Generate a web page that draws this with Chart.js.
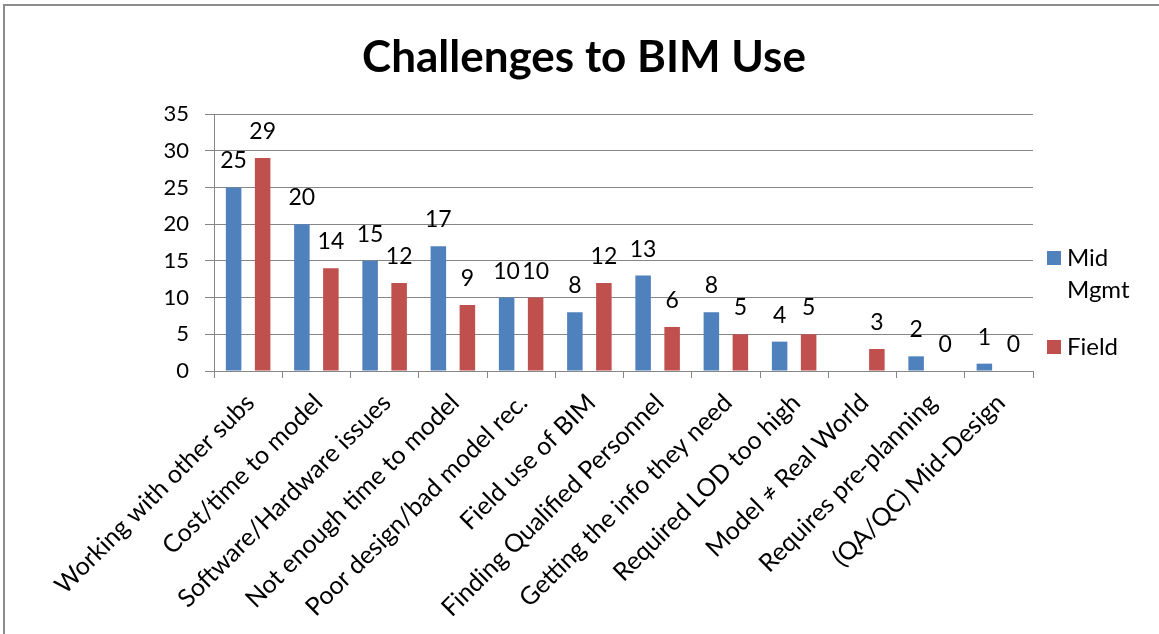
<!DOCTYPE html>
<html>
<head>
<meta charset="utf-8">
<title>Challenges to BIM Use</title>
<script src="https://cdn.jsdelivr.net/npm/chart.js@4.4.1/dist/chart.umd.min.js"></script>
<style>
  html, body { margin: 0; padding: 0; background: #fff; }
  #wrap { position: relative; width: 1159px; height: 634px; overflow: hidden; }
  #frame { position: absolute; left: 3px; top: 4px; right: -10px; bottom: -10px;
           border-left: 2px solid #8c8c8c; border-top: 2px solid #8c8c8c; pointer-events: none; }
  canvas { position: absolute; left: 0; top: 0; }
</style>
</head>
<body>
<div id="wrap">
  <canvas id="chart" width="1159" height="634"></canvas>
  <div id="frame"></div>
</div>
<script>
const chartTitle = 'Challenges to BIM Use';
const categories = [
  'Working with other subs',
  'Cost/time to model',
  'Software/Hardware issues',
  'Not enough time to model',
  'Poor design/bad model rec.',
  'Field use of BIM',
  'Finding Qualified Personnel',
  'Getting the info they need',
  'Required LOD too high',
  'Model \u2260 Real World',
  'Requires pre-planning',
  '(QA/QC) Mid-Design'
];
const midMgmt = [25, 20, 15, 17, 10, 8, 13, 8, 4, null, 2, 1];
const field   = [29, 14, 12, 9, 10, 12, 6, 5, 5, 3, 0, 0];
const seriesNames = [['Mid', 'Mgmt'], ['Field']];
const seriesColors = ['#4F81BD', '#C0504D'];
const yTicks = [0, 5, 10, 15, 20, 25, 30, 35];

const FONT = 'Lato, "Open Sans", sans-serif';
const GRID = '#868686';

// Value labels above each bar, Office style
const valueLabels = {
  id: 'valueLabels',
  afterDatasetsDraw(chart) {
    const ctx = chart.ctx;
    ctx.save();
    ctx.font = '23px ' + FONT;
    ctx.fillStyle = '#000';
    ctx.textAlign = 'center';
    ctx.textBaseline = 'alphabetic';
    chart.data.datasets.forEach((ds, di) => {
      const meta = chart.getDatasetMeta(di);
      meta.data.forEach((bar, i) => {
        const v = ds.data[i];
        if (v === null || v === undefined) return;
        ctx.fillText(String(v), bar.x, bar.y - 19);
      });
    });
    ctx.restore();
  }
};

// Title and right-side legend
const decorations = {
  id: 'decorations',
  afterDraw(chart) {
    const ctx = chart.ctx;
    ctx.save();
    ctx.fillStyle = '#000';
    ctx.font = 'bold 44px ' + FONT;
    ctx.textAlign = 'center';
    ctx.textBaseline = 'alphabetic';
    ctx.fillText(chartTitle, 584, 72);

    ctx.font = '24px ' + FONT;
    ctx.textAlign = 'left';
    const entries = [
      { color: seriesColors[0], box: 251, lines: seriesNames[0], base: [266, 298] },
      { color: seriesColors[1], box: 340, lines: seriesNames[1], base: [355] }
    ];
    entries.forEach(e => {
      ctx.fillStyle = e.color;
      ctx.fillRect(1047, e.box, 14, 14);
      ctx.fillStyle = '#000';
      e.lines.forEach((t, k) => ctx.fillText(t, 1067, e.base[k]));
    });
    ctx.restore();
  }
};

new Chart(document.getElementById('chart'), {
  type: 'bar',
  data: {
    labels: categories,
    datasets: [
      { label: seriesNames[0].join(' '), data: midMgmt, backgroundColor: seriesColors[0],
        categoryPercentage: 0.85, barPercentage: 0.535 },
      { label: seriesNames[1].join(' '), data: field, backgroundColor: seriesColors[1],
        categoryPercentage: 0.85, barPercentage: 0.535 }
    ]
  },
  options: {
    responsive: false,
    animation: false,
    devicePixelRatio: 1,
    layout: { padding: { top: 114, right: 126, left: 0, bottom: 0 } },
    plugins: {
      legend: { display: false },
      title: { display: false },
      tooltip: { enabled: false }
    },
    scales: {
      x: {
        offset: true,
        grid: { offset: true, drawOnChartArea: false, drawTicks: true, tickLength: 7, color: GRID },
        border: { color: GRID, width: 1 },
        ticks: { color: '#000', font: { family: FONT, size: 25 }, minRotation: 45, maxRotation: 45,
                 autoSkip: false, padding: 10, labelOffset: 2 },
        afterFit(scale) { scale.height = 263; }
      },
      y: {
        min: 0, max: 35,
        afterBuildTicks(scale) { scale.ticks = yTicks.map(v => ({ value: v })); },
        grid: { color: GRID, drawTicks: true, tickLength: 9 },
        border: { color: GRID, width: 1 },
        ticks: { color: '#000', font: { family: FONT, size: 22 }, padding: 16 },
        afterFit(scale) { scale.width = 214; }
      }
    }
  },
  plugins: [valueLabels, decorations]
});
</script>
</body>
</html>
